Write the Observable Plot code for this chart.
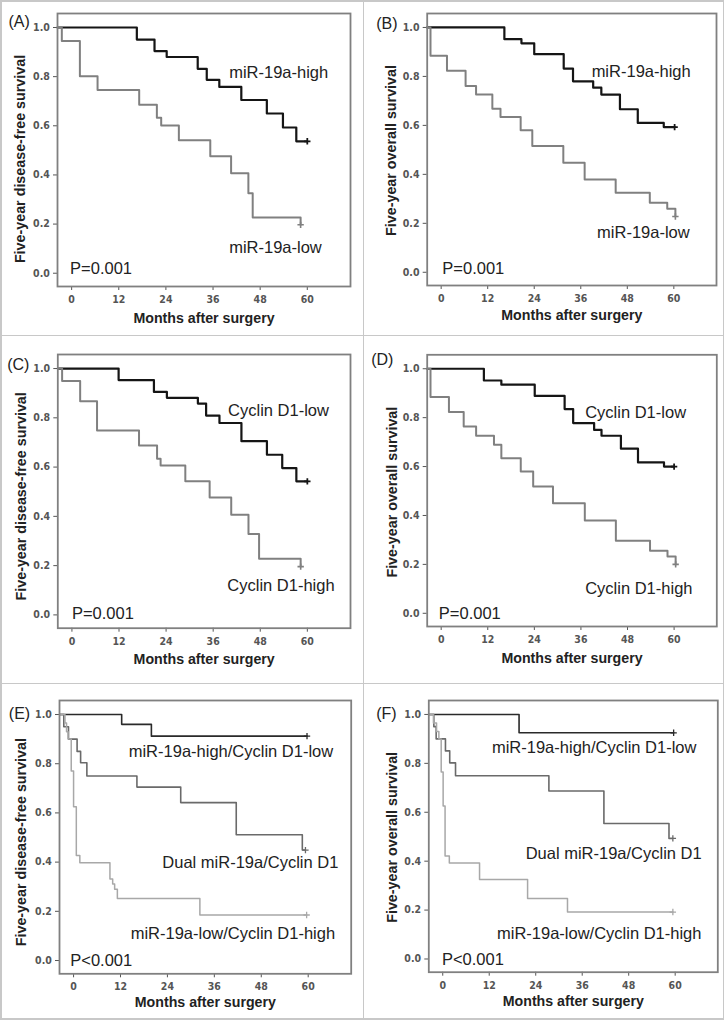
<!DOCTYPE html>
<html><head><meta charset="utf-8">
<script src="https://cdn.jsdelivr.net/npm/d3@7"></script>
<script src="https://cdn.jsdelivr.net/npm/@observablehq/plot@0.6"></script>
<style>
body{margin:0;background:#fff;}
#fig{position:relative;width:728px;height:1021px;background:#fff;overflow:hidden;}
.cell{position:absolute;}
.hl{position:absolute;background:#c8c8c8;}
</style></head><body><div id="fig"></div>
<script>
// ---- axis ticks ----
const xTicks = [0, 12, 24, 36, 48, 60];
const yTicks = [0, 0.2, 0.4, 0.6, 0.8, 1.0];
const xTitle = "Months after surgery";
const yTitleDFS = "Five-year disease-free survival";
const yTitleOS = "Five-year overall survival";
const letters = ["(A)", "(B)", "(C)", "(D)", "(E)", "(F)"];

// ---- survival step data: [month, survival] ----
const A_high = [[-3.6,1],[16.6,0.951],[21.1,0.904],[24.2,0.88],[32.1,0.832],[34.4,0.787],[37.6,0.758],[43.2,0.705],[49.7,0.65],[53.8,0.593],[57.2,0.537],[60,0.537]];
const A_low  = [[-3.6,1],[-2.5,0.945],[2.1,0.802],[6.6,0.746],[17.2,0.686],[21.7,0.633],[22.8,0.601],[27.3,0.541],[35.3,0.476],[40.6,0.407],[45.0,0.325],[46.1,0.227],[58.3,0.197]];
const B_high = [[-3.6,1],[16.3,0.952],[20.7,0.935],[24.0,0.891],[31.6,0.832],[34.0,0.78],[39.2,0.754],[41.3,0.726],[46.1,0.666],[50.7,0.61],[57.4,0.593],[60.2,0.593]];
const B_low  = [[-3.6,1],[-2.75,0.884],[1.5,0.823],[6.3,0.761],[9.0,0.726],[13.2,0.668],[15.3,0.634],[20.5,0.58],[23.5,0.516],[31.5,0.447],[37.0,0.379],[45.0,0.325],[53.8,0.284],[58.3,0.259],[60.4,0.228]];
const C_high = [[-3.6,1],[11.9,0.953],[20.9,0.905],[24.2,0.881],[32.1,0.858],[34.2,0.809],[37.6,0.779],[43.2,0.705],[49.7,0.65],[53.6,0.596],[57.2,0.542],[60,0.542]];
const C_low  = [[-3.6,1],[-2.5,0.949],[2.1,0.867],[6.4,0.748],[17.1,0.688],[21.7,0.634],[22.6,0.606],[28.9,0.542],[35.1,0.477],[40.6,0.407],[45.0,0.328],[47.7,0.228],[58.3,0.196]];
const D_high = [[-3.6,1],[11.0,0.952],[15.5,0.935],[24.1,0.889],[31.8,0.835],[34.0,0.778],[39.4,0.75],[41.3,0.726],[46.3,0.673],[50.7,0.617],[57.4,0.6],[60,0.6]];
const D_low  = [[-3.6,1],[-2.75,0.884],[2.0,0.823],[5.8,0.764],[9.0,0.726],[13.6,0.689],[15.5,0.634],[20.5,0.58],[23.7,0.518],[28.8,0.45],[37.0,0.379],[45.0,0.297],[53.8,0.256],[58.3,0.232],[60.4,0.2]];
const E_high = [[-3.6,1],[12.3,0.96],[19.9,0.912],[59.7,0.912]];
const E_dual = [[-3.6,1],[-2.5,0.95],[-1.3,0.9],[0.9,0.85],[1.8,0.804],[3.4,0.75],[16.2,0.705],[27.4,0.642],[41.6,0.511],[58.5,0.449],[59.3,0.449]];
const E_low  = [[-3.6,1],[-2.2,0.966],[-1.8,0.93],[-1.4,0.9],[-0.6,0.77],[0,0.625],[0.7,0.427],[1.6,0.397],[9.3,0.331],[10.0,0.311],[10.5,0.29],[11.2,0.252],[32.3,0.185],[59.6,0.185]];
const F_high = [[-3.6,1],[19.7,0.925],[59.6,0.925]];
const F_dual = [[-3.6,1],[-2.3,0.95],[-1.7,0.9],[0.7,0.851],[1.8,0.802],[3.3,0.749],[27.4,0.687],[41.6,0.554],[58.4,0.493],[59.4,0.493]];
const F_low  = [[-3.6,1],[-2.4,0.965],[-1.6,0.93],[-1.0,0.9],[-0.4,0.765],[0.1,0.626],[0.6,0.421],[1.7,0.393],[9.5,0.325],[21.9,0.247],[32.2,0.192],[59.4,0.192]];

// ---- annotation texts ----
const A_text = ["miR-19a-high", "miR-19a-low", "P=0.001"];
const B_text = ["miR-19a-high", "miR-19a-low", "P=0.001"];
const C_text = ["Cyclin D1-low", "Cyclin D1-high", "P=0.001"];
const D_text = ["Cyclin D1-low", "Cyclin D1-high", "P=0.001"];
const E_text = ["miR-19a-high/Cyclin D1-low", "Dual miR-19a/Cyclin D1", "miR-19a-low/Cyclin D1-high", "P<0.001"];
const F_text = ["miR-19a-high/Cyclin D1-low", "Dual miR-19a/Cyclin D1", "miR-19a-low/Cyclin D1-high", "P<0.001"];
// anchor of each text in data coordinates [month, survival]
const A_textAt = [[40.1,0.814],[40.1,0.102],[-0.4,0.02]];
const B_textAt = [[38.8,0.818],[40.2,0.16],[0.3,0.014]];
const C_textAt = [[39.8,0.83],[39.6,0.118],[0,0.004]];
const D_textAt = [[37.1,0.821],[37.1,0.102],[-0.6,-0.003]];
const E_textAt = [[14.1,0.848],[22.7,0.396],[14.6,0.108],[-0.85,0]];
const F_textAt = [[12.7,0.865],[21.4,0.431],[14.0,0.104],[-0.2,-0.005]];

// ---- styles ----
const LF = "'Liberation Sans', Arial, Helvetica, sans-serif";
const TF = "'Liberation Sans Narrow', 'Arial Narrow', 'DejaVu Sans Condensed', sans-serif";
const frameColor = "#808080";
const sHigh = {color: "#151515", width: 2.2};
const sLow  = {color: "#808080", width: 2};
const s3High = {color: "#2a2a2a", width: 1.6};
const s3Dual = {color: "#6a6a6a", width: 1.6};
const s3Low  = {color: "#a8a8a8", width: 1.5};

const last = a => [a[a.length - 1]];

const panels = [
  {box:[0,0,363,335], m:[13,13,49,57], letter:letters[0], lpos:[-49,2], yTitle:yTitleDFS, ydx:-37, ydy:9, xdy:36,
   series:[[A_high,sHigh],[A_low,sLow]], text:A_text, at:A_textAt},
  {box:[363,0,361,335], m:[13,8,50,63.7], letter:letters[1], lpos:[-51,3.7], yTitle:yTitleOS, ydx:-36, ydy:1, xdy:34.3,
   series:[[B_high,sHigh],[B_low,sLow]], text:B_text, at:B_textAt},
  {box:[0,335,363,348], m:[19,13,55.3,57.3], letter:letters[2], lpos:[-50.6,4.3], yTitle:yTitleDFS, ydx:-36.6, ydy:5, xdy:36,
   series:[[C_high,sHigh],[C_low,sLow]], text:C_text, at:C_textAt},
  {box:[363,335,361,348], m:[19.3,7.7,57,63.7], letter:letters[3], lpos:[-56,-1], yTitle:yTitleOS, ydx:-34.4, ydy:1.5, xdy:36,
   series:[[D_high,sHigh],[D_low,sLow]], text:D_text, at:D_textAt},
  {box:[0,683,363,336], m:[17,12.3,45.7,59], letter:letters[4], lpos:[-50.7,6.7], yTitle:yTitleDFS, ydx:-38.3, ydy:5, xdy:33.4,
   series:[[E_high,s3High],[E_dual,s3Dual],[E_low,s3Low]], text:E_text, at:E_textAt},
  {box:[363,683,361,336], m:[17,6.7,47.3,65.3], letter:letters[5], lpos:[-52.6,7.3], yTitle:yTitleOS, ydx:-36, ydy:1, xdy:34,
   series:[[F_high,s3High],[F_dual,s3Dual],[F_low,s3Low]], text:F_text, at:F_textAt}
];

const fig = document.getElementById("fig");

for (const p of panels) {
  const marks = [];
  for (const [data, st] of p.series) {
    marks.push(Plot.line(data, {x: d => d[0], y: d => d[1], curve: "step-after", stroke: st.color, strokeWidth: st.width}));
  }
  for (const [data, st] of p.series) {
    marks.push(Plot.dot(last(data), {x: d => d[0], y: d => d[1], symbol: "plus", r: 2.2, stroke: st.color, strokeWidth: Math.max(1.3, st.width * 0.8)}));
  }
  marks.push(Plot.frame({stroke: frameColor, strokeWidth: 1.8}));
  const rows = p.text.map((t, i) => ({t, x: p.at[i][0], y: p.at[i][1]}));
  marks.push(Plot.text(rows, {x: "x", y: "y", text: "t", textAnchor: "start", fontSize: 16.5, fontFamily: LF, fontWeight: "normal", fill: "#222"}));
  marks.push(Plot.text([xTitle], {text: d => d, frameAnchor: "bottom", textAnchor: "middle", dy: p.xdy, fontSize: 14.2, fontWeight: "bold", fontFamily: LF, fill: "#222"}));
  marks.push(Plot.text([p.yTitle], {text: d => d, frameAnchor: "left", textAnchor: "middle", rotate: -90, dx: p.ydx, dy: p.ydy, fontSize: 14.3, fontWeight: "bold", fontFamily: LF, fill: "#222"}));
  marks.push(Plot.text([p.letter], {text: d => d, frameAnchor: "top-left", textAnchor: "start", dx: p.lpos[0], dy: p.lpos[1], fontSize: 16, fontWeight: "normal", fontFamily: LF, fill: "#222"}));

  const svg = Plot.plot({
    width: p.box[2], height: p.box[3],
    marginTop: p.m[0], marginRight: p.m[1], marginBottom: p.m[2], marginLeft: p.m[3],
    x: {domain: [-3.6, 71], ticks: xTicks, tickFormat: d => String(d), tickSize: 4, tickPadding: 5, label: null},
    y: {domain: [-0.054, 1.057], ticks: yTicks, tickFormat: d3.format(".1f"), tickSize: 4, tickPadding: 3.7, label: null},
    style: {fontFamily: TF, fontSize: "10.5px", fontWeight: "bold", color: "#555", background: "transparent", overflow: "visible"},
    marks
  });
  const cell = document.createElement("div");
  cell.className = "cell";
  cell.style.left = p.box[0] + "px";
  cell.style.top = p.box[1] + "px";
  cell.appendChild(svg);
  fig.appendChild(cell);
}

// panel grid lines
const lines = [
  [0, 0, 724, 1.5], [0, 0, 1.5, 1019.5], [722.5, 0, 1.5, 1019.5], [0, 1018, 724, 1.5],
  [362.5, 0, 1.5, 1019], [0, 334.5, 724, 1.5], [0, 682.5, 724, 1.5]
];
for (const [l, t, w, h] of lines) {
  const d = document.createElement("div");
  d.className = "hl";
  d.style.left = l + "px"; d.style.top = t + "px"; d.style.width = w + "px"; d.style.height = h + "px";
  fig.appendChild(d);
}
</script></body></html>
